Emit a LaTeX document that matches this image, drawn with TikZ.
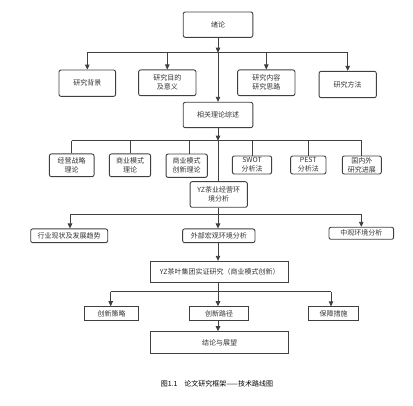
\documentclass[tikz,border=0pt]{standalone}
\usepackage{fontspec}
\setmainfont{Noto Sans CJK SC}
\usetikzlibrary{arrows.meta}
\definecolor{lc}{HTML}{404040}
\definecolor{tc}{HTML}{333333}
\begin{document}
\begin{tikzpicture}[x=1pt,y=-1pt,
  rbox/.style={draw=lc, line width=0.9pt, rounded corners=2pt, align=center, inner sep=0pt,
    text=tc, font=\fontsize{7}{9}\selectfont},
  sbox/.style={rbox, rounded corners=0pt},
  conn/.style={draw=lc, line width=0.9pt},
  arr/.style={conn, -{Triangle[length=5pt,width=4.5pt]}}]
\useasboundingbox (0,0) rectangle (413,406);
% level 1
\node[rbox, minimum width=69.6, minimum height=25.3] (xl) at (218,24.7) {绪论};
\node[rbox, minimum width=56.7, minimum height=26.3] (bj) at (87.3,83.2) {研究背景};
\node[rbox, minimum width=57.3, minimum height=25.7] (md) at (167.3,82.8) {研究目的\\及意义};
\node[rbox, minimum width=57.3, minimum height=25.7] (nr) at (266.3,82.8) {研究内容\\研究思路};
\node[rbox, minimum width=57.3, minimum height=26.3] (ff) at (347.7,84.5) {研究方法};
\node[rbox, minimum width=69.6, minimum height=25.4] (zs) at (218,115) {相关理论综述};
% level 2
\node[rbox, minimum width=44.7, minimum height=22.7] (a1) at (71.7,165.3) {经营战略\\理论};
\node[rbox, minimum width=41.3, minimum height=22.7] (a2) at (130,165.3) {商业模式\\理论};
\node[rbox, minimum width=41.3, minimum height=23.3] (a3) at (186.7,165.7) {商业模式\\创新理论};
\node[rbox, minimum width=39.3, minimum height=18] (a4) at (252,165) {SWOT\\分析法};
\node[rbox, minimum width=35.3, minimum height=18] (a5) at (308.3,165) {PEST\\分析法};
\node[rbox, minimum width=39, minimum height=18] (a6) at (361.8,165) {国内外\\研究进展};
\node[rbox, minimum width=57.3, minimum height=25.6] (hj) at (218.7,194.5) {YZ茶业经营环\\境分析};
% level 3
\node[rbox, minimum width=77, minimum height=13.7] (b1) at (69.2,235.8) {行业现状及发展趋势};
\node[rbox, minimum width=72.3, minimum height=13.7] (b2) at (218.8,235.8) {外部宏观环境分析};
\node[rbox, minimum width=64.7, minimum height=12] (b3) at (361.3,233.3) {中观环境分析};
\node[sbox, minimum width=138, minimum height=21.4] (sz) at (219.7,272) {YZ茶叶集团实证研究（商业模式创新）};
% level 4
\node[sbox, minimum width=54, minimum height=14] (c1) at (111.7,313.7) {创新策略};
\node[sbox, minimum width=59, minimum height=14] (c2) at (219.2,313.7) {创新路径};
\node[sbox, minimum width=50, minimum height=13.3] (c3) at (333.7,313.5) {保障措施};
\node[sbox, minimum width=138, minimum height=21.6] (jl) at (219.7,342.5) {结论与展望};
\node[text=black, font=\fontsize{7}{9}\selectfont, inner sep=0pt] (cap) at (217,384.3) {图1.1\hspace{7pt}论文研究框架——技术路线图};
% junctions
\coordinate (j1) at (218,52.7);
\coordinate (j2) at (218,140.7);
\coordinate (j3) at (218,214);
\coordinate (j4) at (218,291.7);
% bus 1
\draw[arr] (xl.south) -- (j1);
\draw[conn] (bj.north |- j1) -- (ff.north |- j1);
\draw[arr] (bj.north |- j1) -- (bj.north);
\draw[arr] (md.north |- j1) -- (md.north);
\draw[arr] (nr.north |- j1) -- (nr.north);
\draw[arr] (ff.north |- j1) -- (ff.north);
\draw[arr] (j1) -- (zs.north);
% bus 2
\draw[arr] (zs.south) -- (j2);
\draw[conn] (a1.north |- j2) -- (a6.north |- j2);
\draw[conn] (a1.north |- j2) -- (a1.north);
\draw[conn] (a2.north |- j2) -- (a2.north);
\draw[conn] ([xshift=2.6pt]a3.north |- j2) -- ([xshift=2.6pt]a3.north);
\draw[conn] (a4.north |- j2) -- (a4.north);
\draw[conn] (a5.north |- j2) -- (a5.north);
\draw[conn] (a6.north |- j2) -- (a6.north);
\draw[conn] (j2) -- (j2 |- hj.north);
% bus 3
\draw[conn] (j3 |- hj.south) -- (j3);
\draw[conn] ([xshift=0.8pt]b1.north |- j3) -- (b3.north |- j3);
\draw[arr] ([xshift=0.8pt]b1.north |- j3) -- ([xshift=0.8pt]b1.north);
\draw[arr] (j3) -- (j3 |- b2.north);
\draw[arr] (b3.north |- j3) -- (b3.north);
\draw[arr] (j3 |- b2.south) -- (j3 |- sz.north);
% bus 4
\draw[conn] (j4 |- sz.south) -- (j4);
\draw[conn] ([xshift=-1pt]c1.north |- j4) -- ([xshift=-2.7pt]c3.north |- j4);
\draw[arr] ([xshift=-1pt]c1.north |- j4) -- ([xshift=-1pt]c1.north);
\draw[arr] (j4) -- (j4 |- c2.north);
\draw[arr] ([xshift=-2.7pt]c3.north |- j4) -- ([xshift=-2.7pt]c3.north);
\draw[arr] (j4 |- c2.south) -- (j4 |- jl.north);
\end{tikzpicture}
\end{document}
